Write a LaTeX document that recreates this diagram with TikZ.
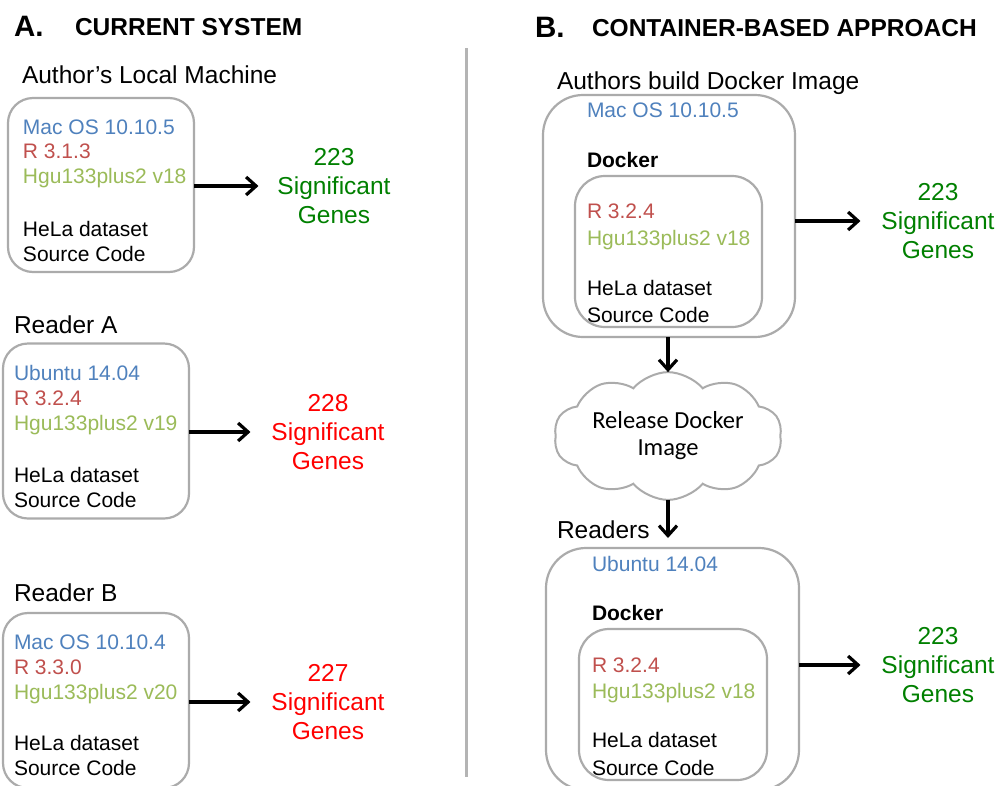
\documentclass[tikz,border=0pt]{standalone}
\usepackage{fontspec}
\setmainfont{Liberation Sans}
\newfontfamily\cloudfont{Carlito}
\usetikzlibrary{arrows.meta,shapes.symbols}
\definecolor{osblue}{HTML}{4F81BD}
\definecolor{rverred}{HTML}{C0504D}
\definecolor{hgugreen}{HTML}{9BBB59}
\definecolor{okgreen}{HTML}{008000}
\definecolor{badred}{HTML}{FF0000}
\definecolor{boxgray}{HTML}{ABABAB}
\definecolor{divgray}{HTML}{B4B4B4}
\begin{document}
\begin{tikzpicture}[x=1pt,y=-1pt,
  every node/.style={inner sep=0pt, outer sep=0pt},
  frame/.style={draw=boxgray, line width=2.2pt, rounded corners=#1},
  frame/.default=25pt,
  ln/.style={anchor=base west, font=\fontsize{21}{25}\selectfont},
  dock/.style={anchor=base west, font=\fontsize{21}{25}\selectfont\bfseries},
  head/.style={anchor=base west, font=\fontsize{24.5}{29}\selectfont},
  ttl/.style={anchor=base west, font=\fontsize{24.5}{29}\selectfont\bfseries},
  letter/.style={anchor=base west, font=\fontsize{29.5}{34}\selectfont\bfseries},
  result/.style={align=center, font=\fontsize{24.5}{29}\selectfont},
  arr/.style={line width=3.2pt, -{Straight Barb[length=10pt,width=18pt]}},
]
\clip (0,0) rectangle (999,785);
\fill[white] (0,0) rectangle (999,785);

% ---------------- A. Current system ----------------
\node[letter] (la) at (14,36) {A.};
\node[ttl] (ta) at (75,35) {CURRENT SYSTEM};

% Author's machine
\node[head] (ha) at (22,83) {Author’s Local Machine};
\node[frame, minimum width=186pt, minimum height=174pt] (ba) at (101,185) {};
\node[ln, text=osblue] (ba1) at (23,134) {Mac OS 10.10.5};
\node[ln, text=rverred] (ba2) at (23,158.5) {R 3.1.3};
\node[ln, text=hgugreen] (ba3) at (23,183) {Hgu133plus2 v18};
\node[ln] (ba4) at (23,236) {HeLa dataset};
\node[ln] (ba5) at (23,261) {Source Code};
\node[result, text=okgreen] (ga) at (334,186) {223\\Significant\\Genes};
\draw[arr] (ba.east |- ga) -- ([xshift=-19pt]ga.west);

% Reader A
\node[head] (hra) at (14,333) {Reader A};
\node[frame, minimum width=186pt, minimum height=175pt] (bra) at (96,431) {};
\node[ln, text=osblue] (bra1) at (14,380) {Ubuntu 14.04};
\node[ln, text=rverred] (bra2) at (14,405) {R 3.2.4};
\node[ln, text=hgugreen] (bra3) at (14,430) {Hgu133plus2 v19};
\node[ln] (bra4) at (14,482) {HeLa dataset};
\node[ln] (bra5) at (14,507) {Source Code};
\node[result, text=badred] (gra) at (328,432) {228\\Significant\\Genes};
\draw[arr] (bra.east |- gra) -- ([xshift=-21pt]gra.west);

% Reader B
\node[head] (hrb) at (14,601.5) {Reader B};
\node[frame, minimum width=186pt, minimum height=175pt] (brb) at (96,700.5) {};
\node[ln, text=osblue] (brb1) at (14,649) {Mac OS 10.10.4};
\node[ln, text=rverred] (brb2) at (14,674) {R 3.3.0};
\node[ln, text=hgugreen] (brb3) at (14,699) {Hgu133plus2 v20};
\node[ln] (brb4) at (14,750) {HeLa dataset};
\node[ln] (brb5) at (14,775) {Source Code};
\node[result, text=badred] (grb) at (328,702) {227\\Significant\\Genes};
\draw[arr] (brb.east |- grb) -- ([xshift=-21pt]grb.west);

% divider
\draw[divgray, line width=2.5pt] (466.7,48) -- (466.7,777);

% ---------------- B. Container-based approach ----------------
\node[letter] (lb) at (535,37) {B.};
\node[ttl] (tb) at (592,36) {CONTAINER-BASED APPROACH};

\node[head] (hab) at (557,89) {Authors build Docker Image};
\node[frame=40pt, minimum width=252pt, minimum height=242pt] (rb1) at (669,216) {};
\node[ln, text=osblue] (rb1os) at (587,117) {Mac OS 10.10.5};
\node[dock] (rb1d) at (587,167) {Docker};
\node[frame=30pt, minimum width=187pt, minimum height=151pt] (rb1i) at (668.5,251.5) {};
\node[ln, text=rverred] (rb11) at (587,218) {R 3.2.4};
\node[ln, text=hgugreen] (rb12) at (587,245) {Hgu133plus2 v18};
\node[ln] (rb13) at (587,295) {HeLa dataset};
\node[ln] (rb14) at (587,322) {Source Code};
\node[result, text=okgreen] (grb1) at (938,221) {223\\Significant\\Genes};
\draw[arr] (rb1.east |- grb1) -- ([xshift=-21pt]grb1.west);

\node[cloud, draw=boxgray, line width=2pt, cloud puffs=10, cloud puff arc=100, aspect=2.1,
      minimum width=228pt, minimum height=110pt, align=center,
      font=\cloudfont\fontsize{24.5}{27}\selectfont] (cl) at (668,436) {Release Docker\\Image};
\draw[arr] (rb1.south -| cl) -- (cl.north);

\node[head] (hrd) at (557,538) {Readers};
\node[frame=40pt, minimum width=253pt, minimum height=242pt] (rb2) at (672.5,669) {};
\draw[arr, shorten >=10pt] (cl.south) -- (cl.south |- rb2.north);
\node[ln, text=osblue] (rb2os) at (592,571) {Ubuntu 14.04};
\node[dock] (rb2d) at (592,620) {Docker};
\node[frame=30pt, minimum width=188pt, minimum height=151pt] (rb2i) at (673,704.5) {};
\node[ln, text=rverred] (rb21) at (592,672) {R 3.2.4};
\node[ln, text=hgugreen] (rb22) at (592,698) {Hgu133plus2 v18};
\node[ln] (rb23) at (592,747) {HeLa dataset};
\node[ln] (rb24) at (592,775) {Source Code};
\node[result, text=okgreen] (grb2) at (938,665) {223\\Significant\\Genes};
\draw[arr] (rb2.east |- grb2) -- ([xshift=-21pt]grb2.west);
\end{tikzpicture}
\end{document}
